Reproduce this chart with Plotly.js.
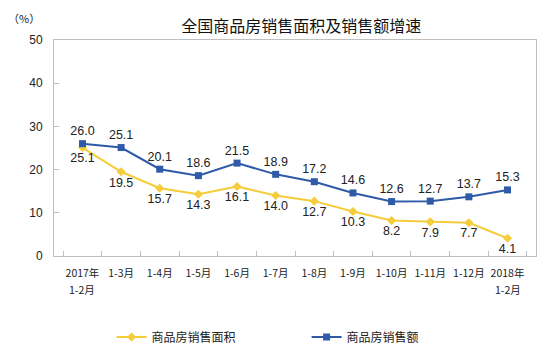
<!DOCTYPE html>
<html><head><meta charset="utf-8">
<script src="https://cdn.plot.ly/plotly-3.0.1.min.js"></script>
<style>html,body{margin:0;padding:0;background:#fff}#c{width:558px;height:351px}</style>
</head><body><div id="c"></div>
<script>
const categories = ["2017年1-2月","1-3月","1-4月","1-5月","1-6月","1-7月","1-8月","1-9月","1-10月","1-11月","1-12月","2018年1-2月"];
const tickLine1 = ["2017年","1-3月","1-4月","1-5月","1-6月","1-7月","1-8月","1-9月","1-10月","1-11月","1-12月","2018年"];
const tickLine2 = ["1-2月","","","","","","","","","","","1-2月"];
const areaGrowth = [25.1, 19.5, 15.7, 14.3, 16.1, 14.0, 12.7, 10.3, 8.2, 7.9, 7.7, 4.1];
const salesGrowth = [26.0, 25.1, 20.1, 18.6, 21.5, 18.9, 17.2, 14.6, 12.6, 12.7, 13.7, 15.3];
const seriesNames = ["商品房销售面积", "商品房销售额"];
const yTicks = [0, 10, 20, 30, 40, 50];

const fontFam = '"Liberation Sans", Arial, "Noto Sans CJK SC", sans-serif';
const cjk = '"Noto Sans CJK SC", "Liberation Sans", sans-serif';

const traces = [
  {x: categories, y: areaGrowth, name: seriesNames[0], type: 'scatter', mode: 'lines+markers+text',
   line: {color: '#F5CC3A', width: 2}, marker: {symbol: 'diamond', size: 7, color: '#F5CC3A'},
   text: areaGrowth.map(v => v.toFixed(1)), textposition: 'bottom center',
   textfont: {family: fontFam, size: 12.5, color: '#222'}, cliponaxis: false},
  {x: categories, y: salesGrowth, name: seriesNames[1], type: 'scatter', mode: 'lines+markers+text',
   line: {color: '#2E5AA8', width: 2}, marker: {symbol: 'square', size: 7, color: '#2E5AA8'},
   text: salesGrowth.map(v => v.toFixed(1)), textposition: 'top center',
   textfont: {family: fontFam, size: 12.5, color: '#222'}, cliponaxis: false}
];

const annotations = [
  {text: '（%）', xref: 'paper', yref: 'paper', x: -0.1, y: 1.1, xanchor: 'left', yanchor: 'middle',
   showarrow: false, font: {family: cjk, size: 11, color: '#222'}}
];
tickLine2.forEach((t, i) => {
  if (t) annotations.push({text: t, xref: 'x', yref: 'paper', x: categories[i], y: -0.153,
    xanchor: 'center', yanchor: 'middle', showarrow: false, font: {family: cjk, size: 10.5, color: '#222'}});
});

const layout = {
  width: 558, height: 351,
  margin: {l: 54, r: 22, t: 40, b: 95},
  paper_bgcolor: '#fff', plot_bgcolor: '#fff',
  font: {family: cjk, size: 11, color: '#222'},
  title: {text: '全国商品房销售面积及销售额增速', font: {family: cjk, size: 16, color: '#111'},
          x: 0.54, xanchor: 'center', y: 0.925, yanchor: 'middle'},
  showlegend: true,
  legend: {orientation: 'h', xref: 'container', yref: 'container', x: 0.2, xanchor: 'left', y: 0.081, yanchor: 'top',
           font: {family: cjk, size: 12, color: '#222'}, entrywidth: 150, entrywidthmode: 'pixels',
           itemwidth: 30, bgcolor: 'rgba(0,0,0,0)'},
  xaxis: {type: 'category', categoryarray: categories, tickvals: categories, ticktext: tickLine1,
          showgrid: false, zeroline: false, showline: true, mirror: true,
          linecolor: '#BFBFBF', linewidth: 1, ticks: 'inside', ticklen: 5, tickcolor: '#BFBFBF',
          tickson: 'boundaries', tickangle: 0, automargin: false, ticklabelstandoff: 7,
          tickfont: {family: cjk, size: 10.5, color: '#222'}, fixedrange: true},
  yaxis: {range: [0, 50], tickvals: yTicks, showgrid: false, zeroline: false, showline: true, mirror: true,
          linecolor: '#BFBFBF', linewidth: 1, ticks: 'inside', ticklen: 5, tickcolor: '#BFBFBF',
          automargin: false,
          tickfont: {family: fontFam, size: 12, color: '#222'}, ticklabelstandoff: 8, fixedrange: true},
  annotations: annotations
};

Plotly.newPlot('c', traces, layout, {displayModeBar: false, staticPlot: true});
</script></body></html>
